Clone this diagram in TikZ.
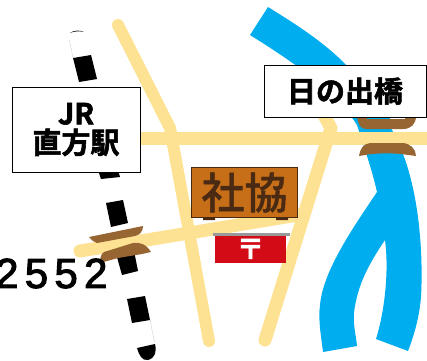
\documentclass[tikz,border=0pt]{standalone}
\usepackage{fontspec}
\setmainfont{Noto Sans CJK JP Bold}[FakeBold=2]
\newfontfamily\signfont{Noto Sans CJK JP Medium}[FakeBold=1]
\newfontfamily\digitfont[LetterSpace=15,FakeBold=2.5]{Liberation Sans}
\definecolor{road}{HTML}{FEE293}
\definecolor{river}{HTML}{00AEEF}
\definecolor{bridge}{HTML}{966532}
\definecolor{signfill}{HTML}{C66F18}
\definecolor{signdark}{HTML}{4A2A12}
\definecolor{postred}{HTML}{D30B17}
\tikzset{
  roadline/.style={draw=road,line width=13pt,line cap=round,line join=round},
  bridgepart/.style={fill=bridge,draw=none},
  raildash/.style={fill=black,draw=none},
  labelbox/.style={draw=black,fill=white,line width=1pt,inner sep=0pt,align=center,font=\fontsize{29}{32}\selectfont},
}
\begin{document}
\begin{tikzpicture}[x=1pt,y=-1pt]
\useasboundingbox (0,0) rectangle (427,360);
% river
\fill[river] (268,7) .. controls (305,30) and (345,55) .. (370,95)
  .. controls (395,130) and (405,155) .. (411,180)
  .. controls (420,215) and (423,260) .. (421,297)
  .. controls (419,320) and (413,338) .. (408,351)
  -- (376,339) .. controls (385,310) and (389,270) .. (385,240)
  .. controls (370,262) and (357,285) .. (354,313)
  .. controls (353,325) and (356,335) .. (357,346)
  -- (323,352) .. controls (321,335) and (318,320) .. (320,305)
  .. controls (323,270) and (355,225) .. (377,192)
  .. controls (372,170) and (365,150) .. (357,125)
  .. controls (335,90) and (290,60) .. (250,35) -- cycle;
% railway
\fill[white] (70,36) -- (88,33) -- (156,348) -- (138,352) -- cycle;
\draw[gray!45,line width=.3pt] (69.5,40) -- (73,58) (150,320) -- (154.5,342);
\fill[black] (70,33) .. controls (74,30) and (80,30) .. (84,32) .. controls (80,31) and (74,31) .. (70,33) -- cycle;
\fill[raildash] (73,58) -- (91,55) -- (97,79) -- (79,82) -- cycle;
\fill[raildash] (99,173) -- (118,170) -- (120,177) -- (101,179) -- cycle;
\fill[raildash] (106,203) -- (123,200) -- (128,223) -- (111,227) -- cycle;
\fill[raildash] (115,250) -- (133,246) -- (138,271) -- (122,275) -- cycle;
\fill[raildash] (127,299) -- (145,296) -- (150,320) -- (132,323) -- cycle;
\fill[raildash] (137,348) -- (155,344) .. controls (157,352) and (155,358) .. (148,360) .. controls (142,361) and (139,355) .. (137,348) -- cycle;
% roads
\coordinate (r1a) at (118,25);
\coordinate (r1b) at (170,128);
\coordinate (r1c) at (209,341);
\coordinate (r2a) at (135,138);
\coordinate (r2b) at (435,138);
\coordinate (r3a) at (80,251);
\coordinate (r3b) at (298,215);
\coordinate (r4a) at (320,108);
\coordinate (r4b) at (331,128);
\coordinate (r4c) at (265,340);
\draw[roadline] (r2a) -- (r2b);
\draw[roadline] (r3a) -- (r3b);
\draw[roadline,line width=12pt] (r1a) -- (r1b) -- (r1c);
\draw[roadline] (r4a) -- (r4b) -- (r4c);
% left bridge
\fill[bridgepart] (89,237) -- (143,226) .. controls (143,231) and (140,235) .. (135,236) -- (97,243) .. controls (94,242) and (91,240) .. (89,237) -- cycle;
\fill[bridgepart] (100,263) .. controls (100,258) and (101,254) .. (104,252) -- (133,243) .. controls (140,242) and (146,244) .. (151,252) -- (142,254) -- (118,258) -- cycle;
% right bridge
\fill[bridgepart] (357,116) .. controls (358,124) and (360,129) .. (366,129) -- (403,129) .. controls (411,129) and (416,124) .. (416,116) -- cycle;
\fill[river] (367,116) rectangle (390,118.5);
\fill[white] (390,116) rectangle (405,118.5);
\fill[bridgepart] (359,156) .. controls (360,149) and (363,144) .. (370,143) -- (402,143) .. controls (410,143) and (416,149) .. (416,156) -- (405,154.5) .. controls (395,153) and (378,153) .. (368,154.5) -- cycle;
% sign
\fill[signdark] (203,216) rectangle (215,220) (276,216) rectangle (288,220);
\node[draw=signdark,fill=signfill,line width=1.2pt,minimum width=106pt,minimum height=50pt,inner sep=0pt,text=signdark,font=\signfont\fontsize{43}{43}\selectfont] (sign) at (244.5,192.5) {社協};
% post
\fill[gray!80] (213,233) rectangle (290,235.5);
\node[fill=postred,minimum width=71pt,minimum height=27pt,inner sep=0pt,text=white,font=\fontsize{28}{28}\selectfont] (post) at (250.5,249) {〒};
% labels
\node[labelbox,minimum width=128pt,minimum height=85pt] (jr) at (76,129.5) {JR\\[-3pt]直方駅};
\node[labelbox,minimum width=162pt,minimum height=52pt] (hinode) at (345,91) {日の出橋};
\node[inner sep=0pt,anchor=west,font=\fontsize{42}{42}\digitfont] (tel) at (-5,273.5) {2552};
\end{tikzpicture}
\end{document}
